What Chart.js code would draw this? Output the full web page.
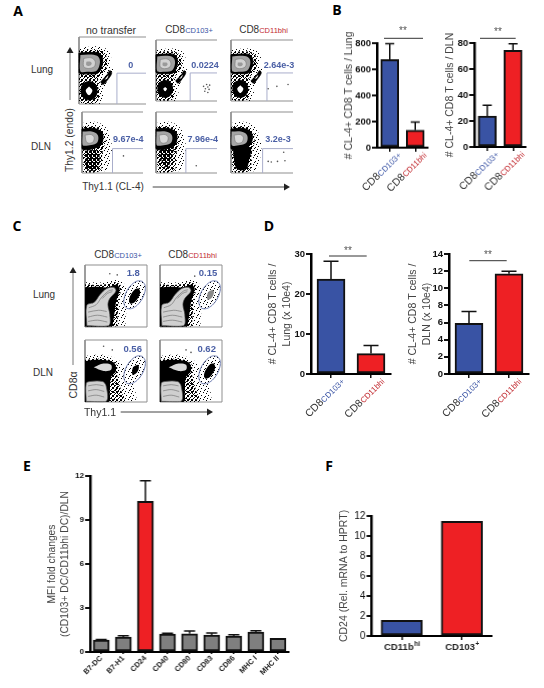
<!DOCTYPE html>
<html><head><meta charset="utf-8">
<style>
html,body{margin:0;padding:0;background:#fff;width:544px;height:688px;overflow:hidden}
#page{position:relative;width:544px;height:688px;overflow:hidden;background:#fff;font-family:"Liberation Sans",Arial,sans-serif;filter:blur(0.35px)}
canvas{position:absolute}
.t{position:absolute;white-space:nowrap;transform:translate(-50%,-50%);color:#333;line-height:1}
svg{position:absolute;left:0;top:0}
</style>
<script src="https://cdn.jsdelivr.net/npm/chart.js@4"></script>
</head><body><div id="page"></div>
<script>
/* ---------- values ---------- */
const cd8Main=['CD8','CD8'];
const cd8Sub=['CD103+','CD11bhi'];
const bLungValues=[675,134];   const bLungErr=[797,197];   const bLungTicks=[0,200,400,600,800];
const bDlnValues=[23.8,74.4];  const bDlnErr=[32.2,79.5];  const bDlnTicks=[0,20,40,60,80];
const dLungValues=[23.7,5.1];  const dLungErr=[28.2,7.1];  const dLungTicks=[0,10,20,30];
const dDlnValues=[5.9,11.7];   const dDlnErr=[7.3,12];     const dDlnTicks=[0,2,4,6,8,10,12,14];
const eCategories=['B7-DC','B7-H1','CD24','CD40','CD80','CD83','CD86','MHC I','MHC II'];
const eValues=[0.81,1.02,10.27,1.22,1.24,1.15,1.09,1.36,0.93];
const eErr=[0.85,1.1,11.67,1.27,1.43,1.29,1.18,1.45,0.93];
const eTicks=[0,3,6,9,12];
const fMain=['CD11b','CD103'];
const fSup=['hi','+'];
const fValues=[1.57,11.47];
const fTicks=[0,2,4,6,8,10,12];

const aValues=[['0','0.0224','2.64e-3'],['9.67e-4','7.96e-4','3.2e-3']];
const cValues=[['1.8','0.15'],['0.56','0.62']];

/* flow plot shapes, in percent of each plot frame */
const frameOpen=[[100,100],[0,100],[0,0],[100,0]];
const frameBox=[[100,100],[0,100],[0,0],[100,0],[100,100]];
const lungSparse=[[0,84],[20,86],[38,84],[48,74],[46,60],[51,50],[44,38],[38,24],[36,8],[30,0],[0,0],[0,84]];
const lungDense=[[0,80],[20,81],[37,78],[42,62],[38,48],[32,42],[28,34],[30,14],[26,2],[4,2],[0,20],[0,80]];
const lungBlack=[[0,76],[18,77],[30,76],[35,68],[34,56],[28,46],[14,45],[0,47],[0,76]];
const lungGray=[[2,73],[16,74],[27,72],[31,66],[30,56],[25,49],[12,48],[2,49],[2,73]];
const lungLight=[[7,68],[18,69],[24,64],[23,56],[14,53],[7,56],[7,68]];
const lungCore=[[11,63],[17,63],[19,60],[16,57],[11,58],[11,63]];
const lungLow=[[15,34],[24,30],[27,20],[24,10],[15,6],[6,10],[3,20],[6,30],[15,34]];
const lungLowCore=[[15,26],[20,20],[15,13],[10,20],[15,26]];
const lungLowCoreSmall=[[15,23],[18,20],[15,16],[12,20],[15,23]];
const lungDiag=[[32,33],[42,44],[46,50],[49,46],[42,35],[36,29],[32,33]];
const lungDiagCore=[[38,36],[42,41],[44,43],[42,38],[38,36]];
const dlnSparse=[[0,82],[20,84],[36,78],[45,64],[49,42],[46,20],[40,4],[6,0],[0,0],[0,82]];
const dlnDense=[[0,76],[22,76],[34,70],[38,52],[33,30],[32,8],[26,2],[6,2],[2,20],[0,40],[0,76]];
const dlnBlack=[[0,72],[20,73],[33,66],[33,50],[25,42],[0,40],[0,72]];
const dlnTailLow=[[6,36],[26,36],[28,14],[20,4],[8,6],[6,36]];
const dlnTailMid=[[6,42],[28,42],[25,24],[20,10],[12,12],[8,26],[6,42]];
const dlnTailHigh=[[3,42],[31,42],[29,20],[24,6],[10,6],[5,22],[3,42]];
const dlnGray=[[1,68],[16,68],[26,62],[25,50],[15,46],[1,46],[1,68]];
const dlnLight=[[5,62],[15,63],[20,58],[17,50],[8,50],[5,62]];
const cLungSparse=[[0,72],[30,72],[50,76],[62,72],[70,42],[66,20],[62,0],[0,0],[0,72]];
const cLungDense=[[0,69],[28,68],[48,72],[58,66],[54,40],[52,10],[50,1],[0,1],[0,69]];
const cLungBlack=[[0,64],[18,65],[36,64],[50,68],[56,62],[50,40],[46,12],[42,1],[0,1],[0,64]];
const cLungLight=[[3,2],[3,35],[15,40],[24,52],[35,62],[46,64],[50,58],[40,46],[37,36],[40,20],[38,2],[3,2]];
const cLungLines=[[[6,31],[18,36],[27,48],[38,58],[45,60]],[[28,46],[36,54],[44,57]],[[5,24],[22,27],[35,25]],[[5,16],[20,19],[36,16]],[[5,9],[20,11],[36,8]]];
const cDlnSparse=[[0,74],[30,76],[56,66],[72,40],[82,14],[80,0],[0,0],[0,74]];
const cDlnDense=[[0,68],[28,70],[50,62],[52,42],[58,20],[62,0],[0,0],[0,68]];
const cDlnBlack=[[0,66],[20,68],[46,64],[50,50],[42,40],[40,18],[38,0],[0,0],[0,66]];
const cDlnBlob=[[14,56],[30,62],[42,60],[42,52],[30,50],[14,56]];
const cDlnBox=[[2,1],[2,30],[8,33],[28,33],[34,26],[34,1],[2,1]];
const cDlnLines=[[[5,26],[18,28],[30,26]],[[5,18],[18,20],[31,17]],[[5,9],[18,11],[31,8]]];
const gateEllipse=[[92.5,73.7],[84.7,74.3],[75.8,68.9],[67.9,59],[63.3,47.2],[63.1,36.8],[67.5,30.3],[75.3,29.8],[84.2,35.1],[92.1,45],[96.7,56.8],[96.9,67.3],[92.5,73.7]];
const clusterLarge=[[87,62],[81,61],[74.4,53],[71,44],[73,38],[79,39],[85.6,47],[89,56],[87,62]];
const clusterSmall=[[85.5,60],[80,58],[76.7,54],[76.5,44],[81,45],[85.3,50],[87,56],[85.5,60]];
const rareA=[[[],[[78,24],[83,27],[85,23],[81,20],[87,19],[80,16],[85,14],[88,26]],[[74,24],[92,27],[60,20]]],
             [[[68,28]],[[66,12]],[[60,19],[65,18],[75,19],[85,34],[87,20]]]];
const rareC=[[[52,84],[40,86]],[[56,82]],[[30,90],[44,84]],[[42,84],[50,80]]];
/* stipple tiles for the dense dot clouds */
const tileSparse=[[1,1],[5,0],[3,3],[0,4],[6,5],[2,6]];
const tileDense=[[0,0],[2,1],[1,2],[3,3],[3,0],[0,3]];
const tileDark=[[0,0],[1,0],[3,0],[1,1],[2,1],[0,2],[2,2],[3,2],[1,3],[3,3]];

/* ---------- helpers ---------- */
const page=document.getElementById('page');
const NAVY='#3953a4',RED='#ee2024',GRAYBAR='#7f7f7f',INK='#111';
function tile(size,dots){const c=document.createElement('canvas');c.width=c.height=size;const x=c.getContext('2d');x.fillStyle='#000';dots.forEach(d=>x.fillRect(d[0],d[1],1,1));return x.createPattern(c,'repeat');}
const patSparse=tile(7,tileSparse),patDense=tile(4,tileDense),patDark=tile(4,tileDark);
function mk(left,top,w,h){const c=document.createElement('canvas');c.width=w;c.height=h;c.style.left=left+'px';c.style.top=top+'px';c.style.width=w+'px';c.style.height=h+'px';page.appendChild(c);return c;}
function text(html,x,y,size,extra){const s=document.createElement('span');s.className='t';s.innerHTML=html;s.style.left=x+'px';s.style.top=y+'px';s.style.fontSize=size+'px';if(extra)s.style.cssText+=extra;page.appendChild(s);return s;}

const decor={id:'decor',afterDatasetsDraw(chart){
  const ds=chart.data.datasets[0],d=chart.$d;if(!d)return;
  const c=chart.ctx,xs=chart.scales.x,ys=chart.scales.y;
  if(d.err){c.save();c.strokeStyle='#111';c.lineWidth=1.5;
    d.err.forEach((v,i)=>{const x=xs.getPixelForValue(i),y1=ys.getPixelForValue(ds.data[i]),y2=ys.getPixelForValue(v);
      if(v<=ds.data[i])return;c.beginPath();c.moveTo(x,y1);c.lineTo(x,y2);c.moveTo(x-d.cap,y2);c.lineTo(x+d.cap,y2);c.stroke();});c.restore();}
  if(d.rot){d.rot.main.forEach((m,i)=>{const x=xs.getPixelForValue(i)+d.rot.dx,y=xs.top+d.rot.dy;c.save();c.translate(x,y);c.rotate(-Math.PI/4);
      const f1=d.rot.size+'px "Liberation Sans"',f2=d.rot.sub+'px "Liberation Sans"';
      c.font=f2;const w2=c.measureText(d.rot.subs[i]).width;c.font=f1;const w1=c.measureText(m).width;
      c.textBaseline='alphabetic';c.textAlign='left';c.fillStyle='#333';c.fillText(m,-w1-w2,0);
      c.font=f2;c.fillStyle=d.rot.colors[i];c.fillText(d.rot.subs[i],-w2,0);c.restore();});}
  if(d.sup){d.sup.main.forEach((m,i)=>{const x=xs.getPixelForValue(i),y=xs.top+d.sup.dy;c.save();
      c.textBaseline='alphabetic';c.textAlign='left';c.fillStyle='#222';
      const f1='bold 9.5px "Liberation Sans"',f2='bold 6.5px "Liberation Sans"';
      c.font=f2;const w2=c.measureText(d.sup.sups[i]).width;c.font=f1;const w1=c.measureText(m).width;const st=x-(w1+w2)/2;
      c.fillText(m,st,y);c.font=f2;c.fillText(d.sup.sups[i],st+w1+0.5,y-4);c.restore();});}
}};
Chart.register(decor);

function barChart(b){
  const w=b.left+(b.xEnd-b.axisX)+b.right,h=b.top+(b.y0-b.yTop)+b.bottom;
  const cv=mk(b.axisX-b.left,b.yTop-b.top,w,h);
  const ch=new Chart(cv,{type:'bar',plugins:[{id:'x',beforeInit(c){c.$d=b.deco;}}],
    data:{labels:b.labels,datasets:[{data:b.values,backgroundColor:b.colors,borderColor:'#111',borderWidth:b.bw||2,borderSkipped:false,barThickness:b.thick}]},
    options:{responsive:false,animation:false,events:[],layout:{padding:{top:b.top,right:b.right}},
      plugins:{legend:{display:false},tooltip:{enabled:false}},
      scales:{
        x:{grid:{display:true,drawOnChartArea:false,drawTicks:true,offset:false,tickLength:b.xTick||4,lineWidth:1.5,color:'#111'},border:{width:2,color:'#000'},
           ticks:b.xNative?{display:true,font:b.xNative,color:'#222',minRotation:45,maxRotation:45,autoSkip:false,padding:0}:{display:false},
           afterFit(s){s.height=b.bottom;}},
        y:{min:0,max:b.ticks[b.ticks.length-1],
           afterBuildTicks(s){s.ticks=b.ticks.map(v=>({value:v}));},
           afterFit(s){s.width=b.left;},
           grid:{display:true,drawOnChartArea:false,drawTicks:true,tickLength:5,lineWidth:2,color:'#111'},border:{width:b.axisW||2.5,color:'#000'},
           ticks:{font:b.tickFont,color:INK,padding:1,autoSkip:false},
           title:{display:true,text:b.title,color:'#444',font:{size:b.titleSize,lineHeight:b.titleLh||1.25,family:'"Liberation Sans"'},padding:0}}
      }}});
  return ch;
}
const tfBold={size:9.5,weight:'bold',family:'"Liberation Sans"'};
function rot(colors,dx){return {main:cd8Main,subs:cd8Sub,colors,size:10.5,sub:8,dx:dx,dy:8};}
const rc=[NAVY,'#c1272d'];

barChart({axisX:376.5,xEnd:428,y0:147.5,yTop:43,left:34,right:10,top:25,bottom:62,labels:cd8Sub,values:bLungValues,colors:[NAVY,RED],thick:18,ticks:bLungTicks,tickFont:tfBold,title:'# CL-4+ CD8 T cells / Lung',titleSize:10.5,deco:{err:bLungErr,cap:4.5,rot:rot(rc,12)}});
barChart({axisX:474.3,xEnd:525.7,y0:147,yTop:43,left:30,right:10,top:25,bottom:62,labels:cd8Sub,values:bDlnValues,colors:[NAVY,RED],thick:18,ticks:bDlnTicks,tickFont:tfBold,title:'# CL-4+ CD8 T cells / DLN',titleSize:10.5,deco:{err:bDlnErr,cap:4.5,rot:rot(rc,12)}});
barChart({axisX:311,xEnd:391,y0:374.3,yTop:254.3,left:45,right:6,top:10,bottom:62,labels:cd8Sub,values:dLungValues,colors:[NAVY,RED],thick:28,ticks:dLungTicks,tickFont:tfBold,title:['# CL-4+ CD8 T cells /','Lung (x 10e4)'],titleSize:10.5,titleLh:1.33,deco:{err:dLungErr,cap:7.5,rot:rot(rc,14)}});
barChart({axisX:448.7,xEnd:528.7,y0:374.3,yTop:254.3,left:43,right:6,top:10,bottom:62,labels:cd8Sub,values:dDlnValues,colors:[NAVY,RED],thick:28,ticks:dDlnTicks,tickFont:tfBold,title:['# CL-4+ CD8 T cells /','DLN (x 10e4)'],titleSize:10.5,titleLh:1.33,deco:{err:dDlnErr,cap:7.5,rot:rot(rc,13)}});
barChart({axisX:90,xEnd:288.7,y0:652.3,yTop:475.7,left:45,right:6,top:8,bottom:34,labels:eCategories,values:eValues,colors:eCategories.map((c,i)=>i===2?RED:GRAYBAR),thick:16,ticks:eTicks,tickFont:{size:8,weight:'bold',family:'"Liberation Sans"'},title:['MFI fold changes','(CD103+ DC/CD11bhi DC)/DLN'],titleSize:10.3,titleLh:1.3,xTick:2,xNative:{size:7.5,weight:'bold',family:'"Liberation Sans"'},deco:{err:eErr,cap:5.5}});
barChart({axisX:371.7,xEnd:491.7,y0:635.7,yTop:515.7,left:33.4,right:6,top:8,bottom:22,labels:fMain,values:fValues,colors:[NAVY,RED],thick:41,ticks:fTicks,tickFont:{size:10,family:'"Liberation Sans"'},title:'CD24 (Rel. mRNA to HPRT)',titleSize:10.5,xTick:4,deco:{sup:{main:fMain,sups:fSup,dy:13.5}}});

/* ---------- flow plots ---------- */
function layer(pts,fill,stroke,lw,tension){return {data:pts.map(p=>({x:p[0],y:p[1]})),showLine:true,fill:fill?'shape':false,backgroundColor:fill||'transparent',borderColor:stroke||'transparent',borderWidth:lw||0,pointRadius:0,tension:tension==null?0.35:tension,clip:false};}
function dots(pts){return {data:pts.map(p=>({x:p[0],y:p[1]})),showLine:false,pointRadius:0.8,pointBackgroundColor:'#555',pointBorderWidth:0,clip:false};}
function flow(x0,y0,x1,y1,ds){
  const cv=mk(x0-1,y0-1,Math.round(x1-x0)+2,Math.round(y1-y0)+2);
  new Chart(cv,{type:'scatter',data:{datasets:ds.slice().reverse()},options:{responsive:false,animation:false,events:[],layout:{padding:1},
    plugins:{legend:{display:false},tooltip:{enabled:false}},
    scales:{x:{type:'linear',min:0,max:100,display:false},y:{type:'linear',min:0,max:100,display:false}}}});
}
const FRAME='#8f8f8f',GATE='#a9aecb',ELL='#7583b5';
function gate(x,y){return layer([[x,0],[x,y],[100,y]],null,GATE,1,0);}
function lungLayers(coreLow,gx,gy,rare){return [
  layer(frameOpen,null,FRAME,1,0),layer(lungSparse,patSparse),layer(lungDense,patDense),layer(lungBlack,'#000','#000',1),layer(lungGray,'#a2a2a2'),layer(lungLight,'#d2d2d2','#777',.6),layer(lungCore,'#9a9a9a'),
  layer(lungLow,'#000','#000',1),layer(coreLow,'#fff'),layer(lungDiag,'#000','#000',.5),layer(lungDiagCore,'#fff'),gate(gx,gy),dots(rare)];}
function dlnLayers(tail,tailFill,gx,gy,rare){return [
  layer(frameOpen,null,FRAME,1,0),layer(dlnSparse,patSparse),layer(dlnDense,patDense),layer(tail,tailFill),layer(dlnBlack,'#000','#000',1),layer(dlnGray,'#a5a5a5'),layer(dlnLight,'#d8d8d8','#777',.6),gate(gx,gy),dots(rare)];}
const aCols=[[78.7,145.7],[153.3,220.7],[228.3,296]];
flow(aCols[0][0],36.7,aCols[0][1],104,lungLayers(lungLowCore,56.6,46,rareA[0][0]));
flow(aCols[1][0],36.7,aCols[1][1],104,lungLayers(lungLowCoreSmall,56,46,rareA[0][1]));
flow(aCols[2][0],36.7,aCols[2][1],104,lungLayers(lungLowCore,58,46,rareA[0][2]));
flow(aCols[0][0],109.3,aCols[0][1],176,dlnLayers(dlnTailLow,patDark,50,40,rareA[1][0]));
flow(aCols[1][0],109.3,aCols[1][1],176,dlnLayers(dlnTailMid,patDark,49,40,rareA[1][1]));
flow(aCols[2][0],109.3,aCols[2][1],176,dlnLayers(dlnTailHigh,'#000',51,40,rareA[1][2]));

function cLines(ls){return ls.map(l=>layer(l,null,'#777',.7));}
function cLung(inner,fill,rare){return [layer(frameBox,null,FRAME,1,0),layer(gateEllipse,patSparse),layer(cLungSparse,patSparse),layer(cLungDense,patDense),layer(cLungBlack,'#000'),layer(cLungLight,'#d0d0d0','#444',.7),...cLines(cLungLines),layer(inner,fill),layer(gateEllipse,null,ELL,1),dots(rare)];}
function cDln(inner,rare){return [layer(frameBox,null,FRAME,1,0),layer(gateEllipse,patSparse),layer(cDlnSparse,patSparse),layer(cDlnDense,patDense),layer(cDlnBlack,'#000'),layer(cDlnBlob,'#d8d8d8'),layer(cDlnBox,'#cfcfcf','#555',.7),...cLines(cDlnLines),layer(inner,'#000'),layer(gateEllipse,null,ELL,1),dots(rare)];}
flow(82.3,261.5,150.7,329,cLung(clusterLarge,'#000',rareC[0]));
flow(156.7,261.5,224.7,329,cLung(clusterSmall,'#8a8a8a',rareC[1]));
flow(82.3,337.3,150.7,405,cDln(clusterSmall,rareC[2]));
flow(156.7,337.3,224.7,405,cDln(clusterLarge,rareC[3]));

/* ---------- text ---------- */
const sub=(s,col)=>'CD8<span style="font-size:7.5px;color:'+col+'">'+s+'</span>';
[['A',18,11],['B',337,10],['C',17,226],['D',269,226],['E',27,466],['F',329,466]].forEach(p=>text(p[0],p[1],p[2],14,'font-family:"Open Sans";font-weight:700;color:#000'));
text('no transfer',111,30,10.5);
text(sub(cd8Sub[0],NAVY),189,30,10);
text(sub(cd8Sub[1],'#c1272d'),263.5,30,10);
text('Lung',42,70,10);text('DLN',41,147,10);
text('Thy1.2 (endo)',69.5,140,10.3,'transform:translate(-50%,-50%) rotate(-90deg)');
text('Thy1.1 (CL-4)',113,187,10);
const blue='font-weight:700;color:#4a5fa5';
const aX=[[130.7,205,279],[128.3,202.7,278]],aY=[64.5,139];
aValues.forEach((r,i)=>r.forEach((v,j)=>text(v,aX[i][j],aY[i],9,blue)));
text(sub(cd8Sub[0],NAVY),118,255,10);
text(sub(cd8Sub[1],'#c1272d'),192.5,255,10);
text('Lung',44,295,10);text('DLN',43,373,10);
text('CD8&alpha;',73,385,10.5,'transform:translate(-50%,-50%) rotate(-90deg)');
text('Thy1.1',100,412,10.5);
const cX=[[133.3,208],[132.7,206.7]],cY=[273,349];
cValues.forEach((r,i)=>r.forEach((v,j)=>text(v,cX[i][j],cY[i],9.5,blue)));
[[403,31],[498,32],[348,251],[488,255]].forEach(p=>text('**',p[0],p[1],10,'color:#555'));

/* ---------- arrows and significance bars ---------- */
const arrows=[[70,100,70,52],[152.7,187,285,187],[73,365,73,272],[120.7,412,208,412]];
const sigs=[[384,38.3,423],[480,38.3,515.7],[329,256,366.7],[469.3,260.7,506.7]];
const heads=[[70,47,66.5,53,73.5,53],[290,187,284,183.5,284,190.5],[73,267,69.5,273,76.5,273],[213,412,207,408.5,207,415.5]];
const svgNS='http://www.w3.org/2000/svg';const svg=document.createElementNS(svgNS,'svg');svg.setAttribute('width',544);svg.setAttribute('height',688);
function line(x1,y1,x2,y2,c,w){const l=document.createElementNS(svgNS,'line');[['x1',x1],['y1',y1],['x2',x2],['y2',y2],['stroke',c],['stroke-width',w]].forEach(a=>l.setAttribute(a[0],a[1]));svg.appendChild(l);}
arrows.forEach((a,i)=>line(a[0],a[1],a[2],a[3],i%2===0?'#777':'#444',1));
sigs.forEach(s=>line(s[0],s[1],s[2],s[1],'#333',1));
heads.forEach(h=>{const p=document.createElementNS(svgNS,'polygon');p.setAttribute('points',h[0]+','+h[1]+' '+h[2]+','+h[3]+' '+h[4]+','+h[5]);p.setAttribute('fill','#222');svg.appendChild(p);});
page.appendChild(svg);
</script></body></html>
